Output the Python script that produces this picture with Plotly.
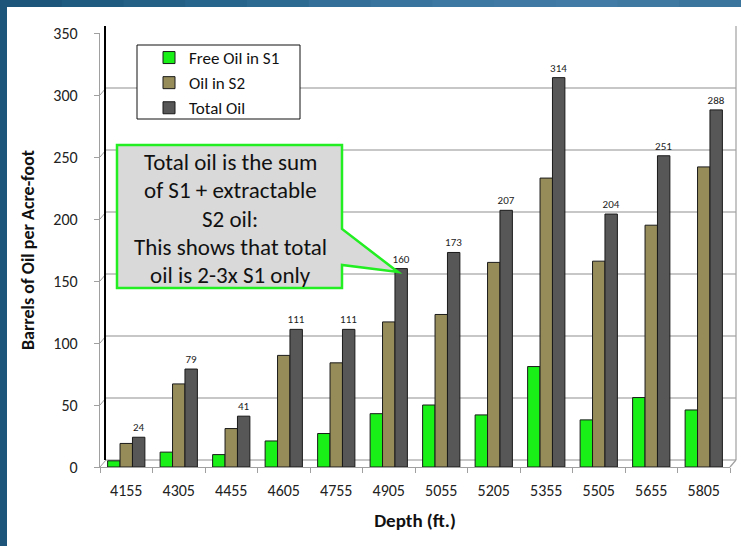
import plotly.graph_objects as go

# ---- data -------------------------------------------------------------
depths = ["4155", "4305", "4455", "4605", "4755", "4905",
          "5055", "5205", "5355", "5505", "5655", "5805"]
free_oil_s1 = [5, 12, 10, 21, 27, 43, 50, 42, 81, 38, 56, 46]
oil_s2 = [19, 67, 31, 90, 84, 117, 123, 165, 233, 166, 195, 242]
total_oil = [24, 79, 41, 111, 111, 160, 173, 207, 314, 204, 251, 288]
y_ticks = [0, 50, 100, 150, 200, 250, 300, 350]

# ---- geometry ---------------------------------------------------------
FIG_W, FIG_H = 741, 546
M_L, M_R, M_T, M_B = 100, 11, 33, 79
PLOT_W = FIG_W - M_L - M_R
PLOT_H = FIG_H - M_T - M_B
Y_MAX = 350
DX, DY = 6, 7          # depth offset of the back wall, in px
FONT = "Calibri, Carlito, Lato, sans-serif"


def px_x(x):
    return (x - M_L) / PLOT_W


def px_y(y):
    return 1 - (y - M_T) / PLOT_H


dy_units = DY * Y_MAX / PLOT_H

fig = go.Figure()
fig.add_trace(go.Bar(x=depths, y=free_oil_s1, name="Free Oil in S1",
                     marker=dict(color="#18f018", line=dict(color="#1a1a1a", width=1)),
                     legendgroup="a"))
fig.add_trace(go.Bar(x=depths, y=oil_s2, name="Oil in S2",
                     marker=dict(color="#968c5a", line=dict(color="#1a1a1a", width=1)),
                     legendgroup="b"))
fig.add_trace(go.Bar(x=depths, y=total_oil, name="Total Oil",
                     marker=dict(color="#575757", line=dict(color="#1a1a1a", width=1)),
                     text=total_oil, textposition="outside", cliponaxis=False,
                     constraintext="none",
                     textfont=dict(size=11, color="#222222", family=FONT),
                     legendgroup="c"))

shapes = []

# blue frame around the panel
shapes.append(dict(type="rect", xref="paper", yref="paper", layer="below",
                   x0=px_x(0), x1=px_x(7), y0=px_y(FIG_H), y1=px_y(0),
                   fillcolor="#1c5579", line=dict(width=0)))
top_cols = ["#1c5579", "#1f5b80", "#245f86", "#28658c", "#2d6a92", "#336f98",
            "#38749d", "#3c78a1", "#4079a3", "#427ba5", "#3f79a2", "#3b749d"]
seg = FIG_W / len(top_cols)
for i, c in enumerate(top_cols):
    shapes.append(dict(type="rect", xref="paper", yref="paper", layer="below",
                       x0=px_x(i * seg), x1=px_x((i + 1) * seg + 1),
                       y0=px_y(7), y1=px_y(0), fillcolor=c, line=dict(width=0)))

# back wall gridlines with their depth connectors to the axis
for v in y_ticks:
    shapes.append(dict(type="line", xref="paper", yref="y", layer="below",
                       x0=px_x(M_L + DX), x1=px_x(M_L + PLOT_W + DX),
                       y0=v + dy_units, y1=v + dy_units,
                       line=dict(color="#b5b5b5", width=1.6)))
    shapes.append(dict(type="line", xref="paper", yref="y", layer="below",
                       x0=0, x1=px_x(M_L + DX), y0=v, y1=v + dy_units,
                       line=dict(color="#9a9a9a", width=1)))

# back wall edges
shapes.append(dict(type="line", xref="paper", yref="paper", layer="below",
                   x0=px_x(M_L + DX - 1), x1=px_x(M_L + DX - 1),
                   y0=px_y(M_T + PLOT_H - DY), y1=px_y(M_T - DY),
                   line=dict(color="#000000", width=2)))
shapes.append(dict(type="line", xref="paper", yref="paper", layer="below",
                   x0=px_x(M_L + PLOT_W + DX), x1=px_x(M_L + PLOT_W + DX),
                   y0=px_y(M_T + PLOT_H - DY), y1=px_y(M_T - DY),
                   line=dict(color="#a0a0a0", width=1.2)))
shapes.append(dict(type="line", xref="paper", yref="paper", layer="below",
                   x0=1, x1=px_x(M_L + PLOT_W + DX),
                   y0=0, y1=px_y(M_T + PLOT_H - DY),
                   line=dict(color="#a0a0a0", width=1.2)))

# legend frame
shapes.append(dict(type="rect", xref="paper", yref="paper", layer="above",
                   x0=px_x(137), x1=px_x(300), y0=px_y(119), y1=px_y(45),
                   fillcolor="white", line=dict(color="#111111", width=1)))

# callout box with pointer
pts = [(117, 145), (342, 145), (342, 229), (398, 272), (342, 265), (342, 288), (117, 288)]
path = "M " + " L ".join(f"{px_x(x):.5f},{px_y(y):.5f}" for x, y in pts) + " Z"
shapes.append(dict(type="path", xref="paper", yref="paper", layer="above", path=path,
                   fillcolor="#d9d9d9", line=dict(color="#22ee22", width=2.5)))

callout_lines = ["Total oil is the sum", "of S1 + extractable", "S2 oil:",
                 "This shows that total", "oil is 2-3x S1 only"]
annotations = []
for i, line in enumerate(callout_lines):
    annotations.append(dict(xref="paper", yref="paper", x=px_x(230), y=px_y(162 + i * 28.3),
                            text=line, showarrow=False, xanchor="center", yanchor="middle",
                            font=dict(size=23, color="#111111", family=FONT)))

fig.update_layout(
    width=FIG_W, height=FIG_H,
    margin=dict(l=M_L, r=M_R, t=M_T, b=M_B, autoexpand=False),
    paper_bgcolor="white", plot_bgcolor="rgba(0,0,0,0)",
    barmode="group", bargap=0.29, bargroupgap=0,
    font=dict(family=FONT, color="#222222", size=16),
    shapes=shapes, annotations=annotations,
    legend=dict(x=px_x(149), y=px_y(40), xanchor="left", yanchor="top",
                bgcolor="rgba(0,0,0,0)", borderwidth=0,
                font=dict(size=17, color="#111111", family=FONT),
                tracegroupgap=0, itemwidth=30),
    xaxis=dict(type="category", showgrid=False, showline=True, linecolor="#a0a0a0",
               linewidth=1.2, ticks="outside", tickson="boundaries", ticklen=5,
               tickcolor="#a0a0a0", ticklabelstandoff=9,
               tickfont=dict(size=16, color="#222222"),
               title=dict(text="<b>Depth (ft.)</b>", font=dict(size=19, color="#111111"),
                          standoff=14)),
    yaxis=dict(range=[0, Y_MAX], tickvals=y_ticks, showgrid=False, zeroline=False,
               showline=True, linecolor="#a0a0a0", linewidth=1.2,
               ticks="outside", ticklen=5, tickcolor="#a0a0a0", ticklabelstandoff=13,
               tickfont=dict(size=16, color="#222222"),
               title=dict(text="<b>Barrels of Oil per Acre-foot</b>",
                          font=dict(size=18, color="#111111"), standoff=14)),
)

fig.write_html("out.html")
